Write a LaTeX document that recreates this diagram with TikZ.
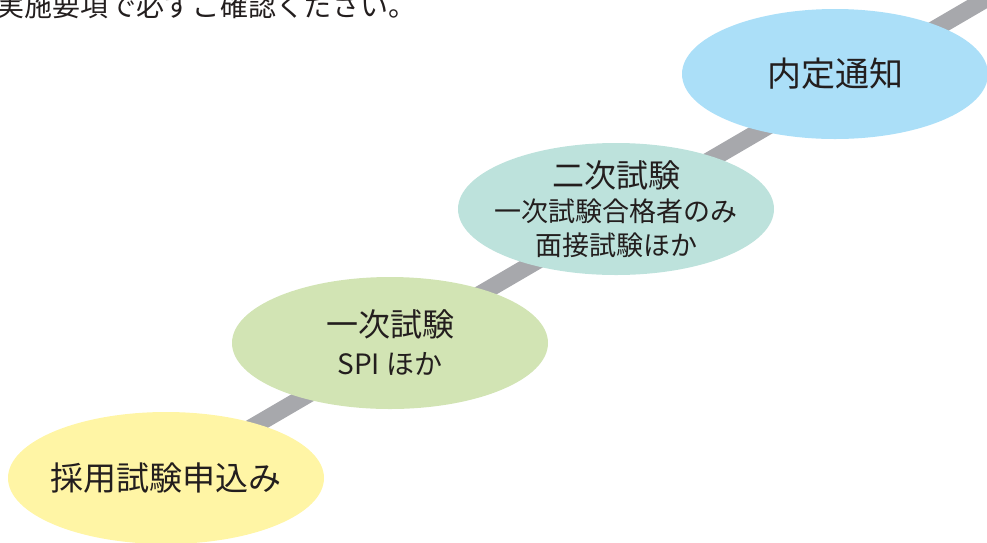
\documentclass[tikz,border=0pt]{standalone}
\usepackage{fontspec}
\setmainfont{Noto Sans CJK JP}
\usetikzlibrary{shapes.geometric}
\definecolor{bandgray}{RGB}{167,168,172}
\definecolor{ink}{RGB}{35,30,30}
\definecolor{ybg}{RGB}{255,245,165}
\definecolor{gbg}{RGB}{210,228,180}
\definecolor{tbg}{RGB}{189,226,220}
\definecolor{bbg}{RGB}{171,223,248}
\begin{document}
\begin{tikzpicture}[x=1pt,y=-1pt]
\tikzset{
  stage/.style={ellipse, inner sep=0pt, draw=none, minimum width=316pt, minimum height=132pt},
  stagetext/.style={inner sep=0pt, text=ink, align=center},
}
\useasboundingbox (0,0) rectangle (987,542);
\clip (0,0) rectangle (987,542);
\coordinate (bandS) at (230,440);
\coordinate (bandE) at (1010,-15);
\draw[bandgray, line width=17pt] (bandS) -- (bandE);
\node[anchor=west, text=ink, font=\fontsize{28}{30}\selectfont, inner sep=0pt] (note) at (-4,6) {実施要項で必ずご確認ください。};
\node[stage, fill=ybg] (apply) at (166,478) {};
\node[stagetext, font=\fontsize{33}{36}\selectfont] (applyt) at (apply.center) {採用試験申込み};
\node[stage, fill=gbg] (first) at (390,343) {};
\node[stagetext, font=\fontsize{28}{38}\selectfont] (firstt) at (first.center)
  {{\fontsize{32}{38}\selectfont 一次試験}\\SPI ほか};
\node[stage, fill=tbg] (second) at (616,209) {};
\node[stagetext, font=\fontsize{27}{34}\selectfont] (secondt) at (second.center)
  {{\fontsize{32}{34}\selectfont 二次試験}\\一次試験合格者のみ\\面接試験ほか};
\node[stage, fill=bbg, minimum width=306pt, minimum height=130pt] (offer) at (835,74) {};
\node[stagetext, font=\fontsize{34}{36}\selectfont] (offert) at (offer.center) {内定通知};
\end{tikzpicture}
\end{document}
